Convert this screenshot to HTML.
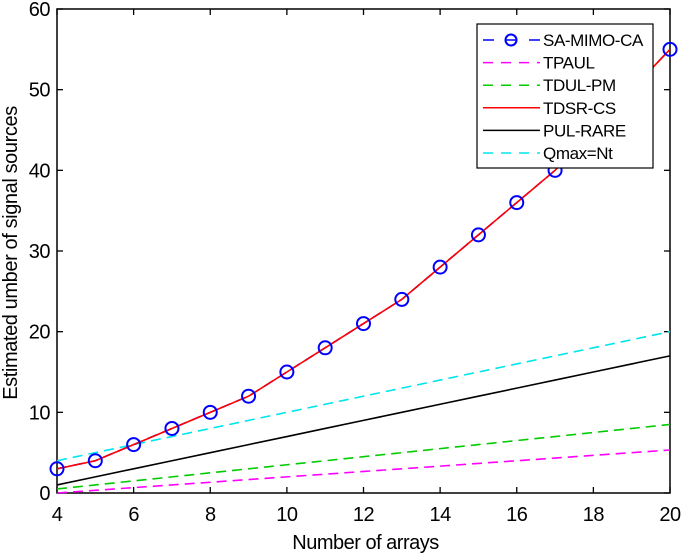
<!DOCTYPE html>
<html><head><meta charset="utf-8"><style>
body{margin:0;background:#fff}
svg{display:block;font-family:"Liberation Sans",Arial,sans-serif}
</style></head><body>
<svg id="chart" width="685" height="554">
<g id="plot"></g>
</svg>
<script>
const xs=[4,5,6,7,8,9,10,11,12,13,14,15,16,17,18,19,20];
const saMimo=[3,4,6,8,10,12,15,18,21,24,28,32,36,40,45,50,55];
const tdsr=[3,4,6,8,10,12,15,18,21,24,28,32,36,40,45,50,55];
const tpaul=[0,0.33,0.67,1,1.33,1.67,2,2.33,2.67,3,3.33,3.67,4,4.33,4.67,5,5.33];
const tdul=[0.5,1,1.5,2,2.5,3,3.5,4,4.5,5,5.5,6,6.5,7,7.5,8,8.5];
const pulRare=[1,2,3,4,5,6,7,8,9,10,11,12,13,14,15,16,17];
const qmax=[4,5,6,7,8,9,10,11,12,13,14,15,16,17,18,19,20];
const xTicks=[4,6,8,10,12,14,16,18,20];
const yTicks=[0,10,20,30,40,50,60];

const L=57,R=670,T=9,B=493;
const sx=v=>L+(v-4)/16*(R-L);
const sy=v=>B-v/60*(B-T);
const NS="http://www.w3.org/2000/svg";
const g=document.getElementById('plot');
function mk(tag,attrs,parent){const e=document.createElementNS(NS,tag);for(const k in attrs)e.setAttribute(k,attrs[k]);(parent||g).appendChild(e);return e;}

const box=mk('rect',{x:L,y:T,width:R-L,height:B-T,fill:'none',stroke:'#000','stroke-width':1.5});


xTicks.forEach(v=>{
  const x=sx(v);
  mk('line',{x1:x,x2:x,y1:B,y2:B-6,stroke:'#000','stroke-width':1.3});
  mk('line',{x1:x,x2:x,y1:T,y2:T+6,stroke:'#000','stroke-width':1.3});
  const t=mk('text',{x:x,y:B+28,'text-anchor':'middle','font-size':20,'letter-spacing':'-0.5'});
  t.textContent=v;
  
  
});
yTicks.forEach(v=>{
  const y=sy(v);
  mk('line',{x1:L,x2:L+6,y1:y,y2:y,stroke:'#000','stroke-width':1.3});
  mk('line',{x1:R,x2:R-6,y1:y,y2:y,stroke:'#000','stroke-width':1.3});
  const t=mk('text',{x:L-7,y:y+7,'text-anchor':'end','font-size':20,'letter-spacing':'-0.5'});
  t.textContent=v;
  
  
});
const xt=mk('text',{x:(L+R)/2+2,y:549,'text-anchor':'middle','font-size':20,'letter-spacing':'-0.5'});
xt.textContent='Number of arrays';


const yt=mk('text',{x:0,y:0,'text-anchor':'middle','font-size':20,'letter-spacing':'-0.4',transform:`translate(17,${(T+B)/2+2}) rotate(-90)`});
yt.textContent='Estimated umber of signal sources';



function series(vals,color,dash,name){
  const p=mk('polyline',{points:xs.map((x,i)=>sx(x)+','+sy(vals[i])).join(' '),fill:'none',stroke:color,'stroke-width':1.6,'stroke-dasharray':dash||'none'});
  
  
}
series(tpaul,'#ff00ff','10,6','tpaul-line');
series(tdul,'#00cc00','10,6','tdul-pm-line');
series(pulRare,'#000','','pul-rare-line');
series(qmax,'#00e5ee','10,6','qmax-line');
series(saMimo,'#0000ff','10,6','sa-mimo-ca-line');
series(tdsr,'#ff0000','','tdsr-cs-line');
xs.forEach((x,i)=>{
  const c=mk('circle',{cx:sx(x),cy:sy(saMimo[i]),r:6.5,fill:'none',stroke:'#0000ff','stroke-width':2});
  
  
});

const lg=mk('g',{});


mk('rect',{x:477,y:24,width:176,height:144,fill:'#fff',stroke:'#000','stroke-width':1.2},lg);
const entries=[['SA-MIMO-CA','#0000ff','10,8',true],['TPAUL','#ff00ff','10,8'],['TDUL-PM','#00cc00','10,8'],['TDSR-CS','#ff0000',''],['PUL-RARE','#000',''],['Qmax=Nt','#00e5ee','10,8']];
entries.forEach((e,i)=>{
  const y=40+i*22.6;
  const eg=mk('g',{},lg);
  
  
  if(e[3]){
    mk('line',{x1:483,x2:494,y1:y,y2:y,stroke:e[1],'stroke-width':1.5},eg);
    mk('line',{x1:529,x2:540,y1:y,y2:y,stroke:e[1],'stroke-width':1.5},eg);
    mk('circle',{cx:511,cy:y,r:5.5,fill:'none',stroke:e[1],'stroke-width':2},eg);
    mk('line',{x1:506,x2:516,y1:y,y2:y,stroke:e[1],'stroke-width':1.5},eg);
  } else {
    mk('line',{x1:483,x2:540,y1:y,y2:y,stroke:e[1],'stroke-width':1.5,'stroke-dasharray':e[2]||'none'},eg);
  }
  const t=mk('text',{x:543,y:y+6,'font-size':17,'letter-spacing':'-0.4'},eg);
  t.textContent=e[0];
});
</script>
</body></html>
